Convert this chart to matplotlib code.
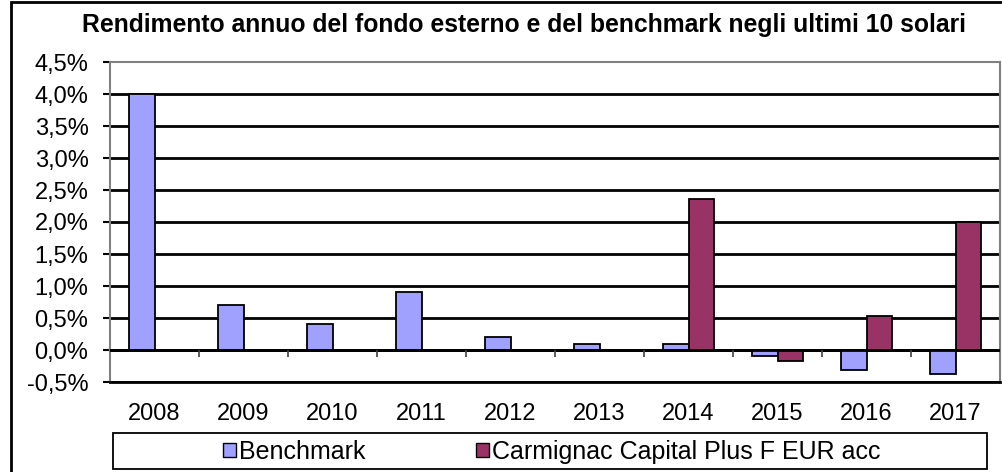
import matplotlib
matplotlib.use('Agg')
import matplotlib.pyplot as plt
from matplotlib.patches import Rectangle, Patch
from matplotlib.ticker import FuncFormatter, MultipleLocator
import numpy as np

years = ['2008', '2009', '2010', '2011', '2012', '2013', '2014', '2015', '2016', '2017']
benchmark = [4.0, 0.7, 0.4, 0.9, 0.2, 0.1, 0.1, -0.1, -0.32, -0.37]
carmignac = [0.0, 0.0, 0.0, 0.0, 0.0, 0.0, 2.36, -0.17, 0.53, 2.0]
series_names = ['Benchmark', 'Carmignac Capital Plus F EUR acc']
title = 'Rendimento annuo del fondo esterno e del benchmark negli ultimi 10 solari'

c_bench = '#A0A0FF'
c_carm = '#993366'

plt.rcParams['font.family'] = ['Liberation Sans', 'DejaVu Sans']

fig = plt.figure(figsize=(10.02, 4.72), dpi=100)
W, H = 1002, 472
ax = fig.add_axes([110 / W, 1 - 382 / H, 890 / W, 320 / H])

x = np.arange(len(years))
bw = 0.29
ax.bar(x - bw / 2, benchmark, bw, color=c_bench, edgecolor='black', linewidth=1.3, zorder=3)
ax.bar(x + bw / 2, carmignac, bw, color=c_carm, edgecolor='black', linewidth=1.3, zorder=3)

ax.set_xlim(-0.5, len(years) - 0.5)
ax.set_ylim(-0.5, 4.5)
ax.yaxis.set_major_locator(MultipleLocator(0.5))
ax.yaxis.set_major_formatter(FuncFormatter(lambda v, p: f'{v:.1f}%'.replace('.', ',')))
for yv in np.arange(-0.5, 4.01, 0.5):
    ax.axhline(yv, color='black', linewidth=2.0, zorder=1)
ax.axhline(0, color='black', linewidth=2.0, zorder=4)

# category boundary ticks hanging from the zero line
bounds = np.arange(0.5, len(years) - 0.5, 1.0)
ax.vlines(bounds, -0.11, 0, color='#404040', linewidth=1.2, zorder=4)

ax.set_xticks(x)
ax.set_xticklabels(years)
ax.tick_params(axis='x', length=0, pad=15, labelsize=17)
ax.tick_params(axis='y', length=5, width=1.5, direction='out', labelsize=17, pad=10.5, color='black')

for s in ['left', 'top', 'right']:
    ax.spines[s].set_color('#808080')
    ax.spines[s].set_linewidth(1.5)
ax.spines['bottom'].set_color('black')
ax.spines['bottom'].set_linewidth(2.0)

fig.text(524 / W, 1 - 32 / H, title, ha='center', va='baseline', fontsize=17.8,
         fontweight='bold')

# outer chart frame
fig.add_artist(Rectangle((11 / W, -0.01), 1.05, 1 - 2 / H + 0.01, transform=fig.transFigure,
                         fill=False, edgecolor='black', linewidth=2))

# legend box
fig.add_artist(Rectangle((113 / W, 1 - 469 / H), 874 / W, 36 / H, transform=fig.transFigure,
                         fill=False, edgecolor='black', linewidth=1.3))
handles = [Patch(facecolor=c_bench, edgecolor='black', linewidth=1.0),
           Patch(facecolor=c_carm, edgecolor='black', linewidth=1.0)]
fig.legend(handles, series_names, loc='center', bbox_to_anchor=(551.5 / W, 1 - 452 / H), ncol=2,
           frameon=False, fontsize=18, handlelength=0.52, handleheight=0.52,
           handletextpad=0.12, columnspacing=4.4, borderaxespad=0, borderpad=0)

fig.savefig('out.png', dpi=100)
